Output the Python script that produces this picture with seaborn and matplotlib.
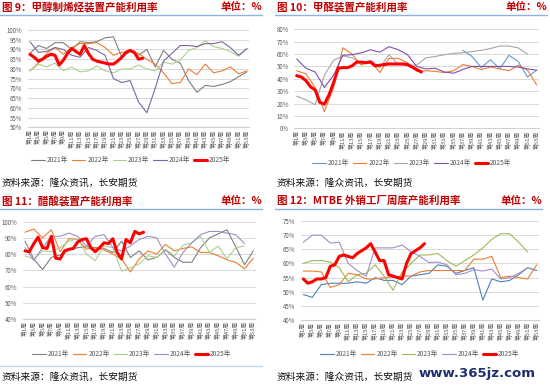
import numpy as np
import pandas as pd
import matplotlib
matplotlib.use('Agg')
import matplotlib.pyplot as plt
import seaborn as sns

W, H = 550, 388
nan = np.nan

# x axis: odd weeks for the 2021-2024 series, every week for 2025
weeks_odd = list(range(1, 54, 2))
week_labels = [f'第{w}周' for w in weeks_odd]
years = ['2021年', '2022年', '2023年', '2024年', '2025年']

# 图9 甲醇制烯烃装置产能利用率
p1_2021 = [88, 92, 90.5, 93.5, 93.5, 90, 94, 93.5, 94, 96, 96.5, 86, 89, 87, 90, 81, 89.5, 85, 83, 74, 68, 71.5, 71, 72, 73.5, 76, 78.5]
p1_2022 = [79, 83, 88, 91, 87.5, 91, 93, 93, 93.5, 91, 87, 88.5, 89, 88, 85, 82.5, 78, 72.5, 73, 80, 77, 82.5, 78, 79, 81, 77.5, 79]
p1_2023 = [79, 82.5, 81, 83, 79, 81, 78.5, 79, 81.5, 79, 78, 80, 80, 82, 80, 79, 83.5, 82.5, 84.5, 89.5, 91, 94.5, 91.5, 90.5, 89, 86.5, 90.5]
p1_2024 = [94, 88.5, 89, 91, 90, 87, 86, 91, 89.5, 87, 75, 73, 74, 63, 57.5, 70, 84, 88, 92, 92, 91.5, 93, 93, 94, 91, 87, 90.5]
p1_2025 = [87.5, 86, 84, 85, 86.5, 87.5, 87, 82, 84.5, 88, 90.5, 89, 87.5, 92, 88, 85, 84, 83.5, 83, 82.5, 82.5, 84, 86, 88.5, 89.5, 88.5, 85, 85.5]

# 图10 甲醛装置产能利用率
p2_2021 = [nan] * 18 + [63, 58, 49, 55.5, 48, 59, 54, 41.5, 47]
p2_2022 = [46.5, 44, 33, 13.5, 33, 65, 60, 51, 54.5, 45, 56.5, 56.5, 53, 46, 46.5, 46, 45, 46.5, 51.5, 50, 47.5, 49.5, 48, 46.5, 51, 47, 35]
p2_2023 = [26, 23, 19, 43, 55, 58.5, 57, 52.5, 55, 49, 59.5, 51.5, 51, 51, 57, 58, 59.5, 60.5, 61, 62, 63, 64.5, 66.5, 66.5, 65, 60, nan]
p2_2024 = [56, 48.5, 45.5, 33, 43, 59, 59.5, 61, 63.5, 61.5, 66, 63.5, 59.5, 50, 48, 48.5, 45.5, 44.5, 47.5, 50, 50, 50, 50, 50, 49.5, 48, 47]
p2_2025 = [42.5, 41.5, 38.5, 33.5, 31, 21, 19.5, 27, 37, 48.5, 49, 49, 50.5, 53.5, 53.5, 53, 53.5, 50.5, 51, 51.5, 52, 52, 52, 52, 51.5, 49.5, 47.5, 45.5]

# 图11 醋酸装置产能利用率
p3_2021 = [88, 77, 70.5, 78, 79.5, 82.5, 84, 84.5, 84, 83.5, 81, 88, 78, 82, 76.5, 78, 82.5, 78, 75, 75, 84, 90, 92.5, 95, 84.5, 73.5, 82]
p3_2022 = [93.5, 95.5, 90, 95, 81.5, 89.5, 89, 83, 84, 82.5, 80, 77, 69, 77, 82, 80, 86, 82, 83.5, 84.5, 81, 81, 79, 76.5, 75, 71, 77.5]
p3_2023 = [79, 77, 82, 81.5, 84, 88, 89.5, 80, 76, 85, 84, 69.5, 71.5, 74, 79, 78, 83, 79, 85.5, 87, 91, 81, 85, 77, 84, 85, nan]
p3_2024 = [84, 76, 84, 91, 91, 93, 91, 85, 91, 92, 84, 82, 85, 89, 91, 90, 80, 72, 81, 87, 92, 94, 94, 93, 92, 86.5, nan]
p3_2025 = [82, 81.5, 86.5, 90.5, 84, 83.5, 91, 77.5, 77, 82, 83, 83.5, 87.5, 89, 89.5, 84, 81.5, 84, 87, 86.5, 89.5, 81, 77, 89, 87, 94, 92.5, 93.5]

# 图12 MTBE外销工厂周度产能利用率
p4_2021 = [49, 48, 52.5, 53, 53, 53, 53.5, 53, 55, 54, 54, 52.5, 55.5, 56, 56.5, 59.5, 59, 56.5, 57.5, 58.5, 47, 54.5, 53.5, 54, 56, 58.5, 57.5]
p4_2022 = [57.3, 57.3, 57, 51.5, 52.5, 56.5, 56, 54.5, 54.5, 55, 55.2, 55.5, 55.5, 57, 57.5, 57.5, 57.5, 57.5, 57.5, 61.5, 61.5, 62.5, 55, 55.5, 55, 54.5, 59.5]
p4_2023 = [60, 61, 61, 60.5, 58.5, 53.5, 56, 56.5, 59.5, 55.5, 50.5, 57, 60, 63, 63, 63.5, 61, 59, 61, 63, 65.5, 68.5, 70.5, 70.5, 67.5, 64, nan]
p4_2024 = [67.5, 70, 70, 67.2, 67.5, 60, 57.5, 55.5, 65.5, 65.5, 65.5, 66.5, 64.2, 62.5, 60.3, 60.5, 59.5, 56, 56.5, 57.8, 57.3, 58, 54.5, 55, 56.5, 58.5, nan]
p4_2025 = [54.5, 53, 53.5, 54.5, 54.5, 55, 59, 59.5, 62.5, 63, 62.5, 62, 63.5, 64.5, 65.5, 67, 64, 61, 61, 56, 55.5, 55, 54.5, 60, 63.5, 64.5, 65.5, 67]

sns.set_theme(style='white')
plt.rcParams['font.family'] = ['Noto Sans CJK SC', 'DejaVu Sans']

fig = plt.figure(figsize=(W / 100, H / 100), dpi=100)
fig.patch.set_facecolor('white')


def fx(x):
    return x / W


def fy(y):
    return 1 - y / H


def draw_panel(box, data, colors, ylo, yhi, ystep, title, unit_x, origin, legend_c, source_line=False):
    left, top, right, bottom = box
    ox, oy = origin
    ax = fig.add_axes([fx(left), fy(bottom), (right - left) / W, (bottom - top) / H])
    for name, vals, c in zip(years, data, colors):
        if name == '2025年':
            wk = list(range(1, len(vals) + 1))
            lw, z = 2.2, 5
        else:
            wk = weeks_odd
            lw, z = 0.8, 3
        df = pd.DataFrame({'week': wk, 'value': vals})
        sns.lineplot(data=df, x='week', y='value', color=c, linewidth=lw,
                     label=name, ax=ax, zorder=z)
    ax.set_xlim(0.5, 53.5)
    ax.set_ylim(ylo, yhi)
    yt = np.arange(ylo, yhi + 0.01, ystep)
    ax.set_yticks(yt)
    ax.set_yticklabels([f'{int(v)}%' for v in yt], fontsize=4.4, color='#595959')
    ax.set_xticks(weeks_odd)
    ax.set_xticklabels(week_labels, rotation=90, fontsize=4.2, color='#595959')
    ax.tick_params(axis='y', length=0, pad=4)
    ax.tick_params(axis='x', length=0, pad=1.5)
    ax.yaxis.grid(True, color='#d9d9d9', linewidth=0.7)
    ax.xaxis.grid(False)
    ax.set_xlabel('')
    ax.set_ylabel('')
    for s in ['top', 'left', 'right']:
        ax.spines[s].set_visible(False)
    ax.spines['bottom'].set_color('#d0d0d0')
    ax.spines['bottom'].set_linewidth(0.8)
    ax.set_facecolor('none')

    handles, labels = ax.get_legend_handles_labels()
    ax.legend(handles, labels, loc='center', bbox_to_anchor=(fx(legend_c[0]), fy(legend_c[1])),
              bbox_transform=fig.transFigure, ncol=5, frameon=False, fontsize=4.8,
              handlelength=2.0, columnspacing=0.6, handletextpad=0.3, labelcolor='#595959')

    # header, underline, source
    fig.text(fx(ox + 2), fy(oy + 7), title, fontsize=7.6, fontweight='bold', color='#c00000',
             ha='left', va='center')
    fig.text(fx(unit_x), fy(oy + 7), '单位：%', fontsize=7.6, fontweight='bold', color='#c00000',
             ha='right', va='center')
    fig.add_artist(plt.Line2D([fx(ox), fx(unit_x)], [fy(oy + 15)] * 2, color='#8db3e2', lw=1))
    if source_line:
        fig.add_artist(plt.Line2D([fx(ox), fx(ox + 262)], [fy(oy + 172)] * 2, color='#bdd7ee', lw=1))
    fig.text(fx(ox + 2), fy(oy + 183), '资料来源：隆众资讯，长安期货', fontsize=7, color='#111111',
             ha='left', va='center')
    return ax


c_grey = '#7f7f7f'
c_orange = '#ed7d31'
c_green = '#a9d18e'
c_purple = '#8064a2'
c_red = '#ff0000'

draw_panel((27.9, 30, 249.1, 127.3), [p1_2021, p1_2022, p1_2023, p1_2024, p1_2025],
           [c_grey, c_orange, c_green, c_purple, c_red], 50, 100, 5,
           '图 9：甲醇制烯烃装置产能利用率', 262, (0, 0), (131, 160))
draw_panel((294.4, 29.3, 539, 128.3), [p2_2021, p2_2022, p2_2023, p2_2024, p2_2025],
           ['#5b9bd5', c_orange, '#a5a5a5', '#7f4fb0', c_red], 0, 80, 10,
           '图 10：甲醛装置产能利用率', 547, (275, 0), (412, 163))
draw_panel((22.8, 221.7, 255.5, 319), [p3_2021, p3_2022, p3_2023, p3_2024, p3_2025],
           [c_grey, c_orange, c_green, '#9f8ec4', c_red], 40, 100, 10,
           '图 11：醋酸装置产能利用率', 262, (0, 194), (132, 354), source_line=True)
draw_panel((301.1, 221, 538.9, 320), [p4_2021, p4_2022, p4_2023, p4_2024, p4_2025],
           ['#4f81bd', c_orange, '#9bbb59', '#a58cc9', c_red], 40, 75, 5,
           '图 12：MTBE 外销工厂周度产能利用率', 542, (275, 194), (420, 354))

fig.text(fx(536), fy(373), 'www.365jz.com', fontsize=9.5, fontweight='bold', color='#1c2f6e',
         ha='right', va='center', family='DejaVu Sans')

fig.savefig('out.png', dpi=100)
